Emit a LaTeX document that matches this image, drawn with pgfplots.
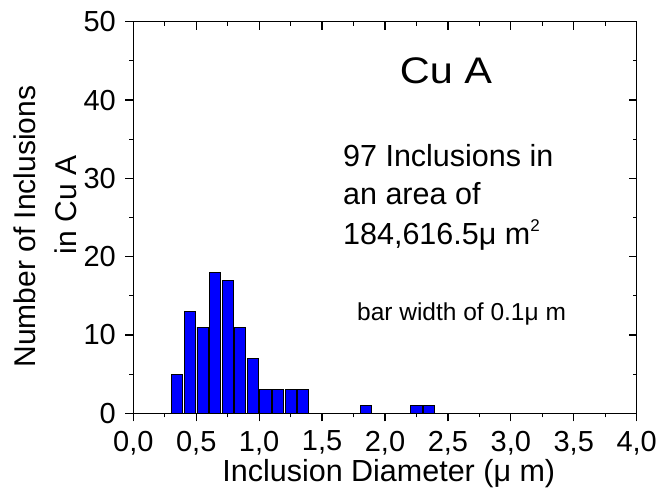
\documentclass[border=0pt]{standalone}
\usepackage{pgfplots}
\pgfplotsset{compat=1.18}
\usepackage{fontspec}
\setmainfont{Liberation Sans}

\pgfplotstableread{
d n
0.35 5
0.45 13
0.55 11
0.65 18
0.75 17
0.85 11
0.95 7
1.05 3
1.15 3
1.25 3
1.35 3
1.85 1
2.25 1
2.35 1
}\incl

\pgfplotsset{
  common/.style={
    scale only axis,
    width=503.4pt, height=391.6pt,
    xmin=0, xmax=4, ymin=0, ymax=50,
    xtick={0,0.5,...,4}, ytick={0,10,...,50},
    minor x tick num=1, minor y tick num=1,
    major tick length=8pt, minor tick length=4pt,
    axis line style={line width=1.2pt},
    every tick/.style={black, line width=1.2pt},
    clip=false,
  }
}

\begin{document}
\begin{tikzpicture}
\begin{axis}[common,
    tick align=outside,
    xtick pos=bottom, ytick pos=left,
    tick label style={font=\fontsize{29}{34}\selectfont},
    /pgf/number format/assume math mode=true,
    xticklabel style={yshift=-6pt, /pgf/number format/.cd, fixed, fixed zerofill, precision=1, use comma},
    yticklabel style={xshift=-6pt, /pgf/number format/.cd, fixed, precision=0},
]
\addplot[ybar, bar width=0.088, bar shift=0pt, fill=blue, draw=black, line width=0.9pt] table[x=d, y=n] {\incl};

\node[anchor=base, inner sep=0, xscale=1.12, font=\fontsize{37}{42}\selectfont] at (axis cs:2.485,42.17) {Cu A};
\node[anchor=base west, inner sep=0, font=\fontsize{30.5}{35}\selectfont] at (axis cs:1.666,31.45) {97 Inclusions in};
\node[anchor=base west, inner sep=0, font=\fontsize{30.5}{35}\selectfont] at (axis cs:1.666,26.6) {an area of};
\node[anchor=base west, inner sep=0, font=\fontsize{30.5}{35}\selectfont] at (axis cs:1.666,21.5) {184,616.5μ m\raisebox{13pt}{\fontsize{17}{20}\selectfont 2}};
\node[anchor=base west, inner sep=0, font=\fontsize{24.5}{29}\selectfont] at (axis cs:1.777,11.8) {bar width of 0.1μ m};

\node[anchor=base, inner sep=0, font=\fontsize{30.5}{35}\selectfont] at (axis cs:2.03,-8.73) {Inclusion Diameter (μ m)};
\node[anchor=base, inner sep=0, rotate=90, font=\fontsize{30}{35}\selectfont] at (axis cs:-0.781,23.84) {Number of Inclusions};
\node[anchor=base, inner sep=0, rotate=90, font=\fontsize{30}{35}\selectfont] at (axis cs:-0.45,26.6) {in Cu A};
\end{axis}
\begin{axis}[common,
    tick align=inside,
    xtick pos=top, ytick pos=right,
    xticklabels={}, yticklabels={},
]
\end{axis}
\pgfresetboundingbox
\path (-133.3pt,-79.7pt) rectangle (527.7pt,413.3pt);
\end{tikzpicture}
\end{document}
